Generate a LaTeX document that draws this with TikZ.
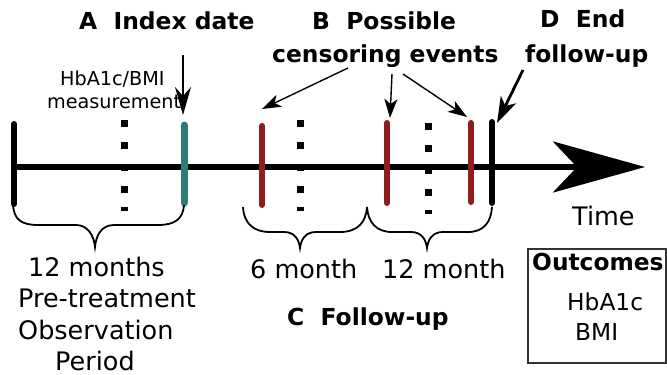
\documentclass[tikz,border=0pt]{standalone}
\usepackage{fontspec}
\setmainfont{DejaVu Sans}
\usetikzlibrary{arrows.meta}
\definecolor{tealc}{HTML}{2E7B78}
\definecolor{redc}{HTML}{8F1D1D}
\definecolor{boxc}{HTML}{333333}
\begin{document}
\begin{tikzpicture}[x=1pt,y=-1pt,
  lbl/.style={anchor=base west, inner sep=0pt, font=\fontsize{25.5}{30}\selectfont},
  hdr/.style={anchor=base west, inner sep=0pt, font=\fontsize{23.4}{28}\selectfont\bfseries},
  sml/.style={anchor=base west, inner sep=0pt, font=\fontsize{19.2}{23}\selectfont},
  boxt/.style={anchor=base west, inner sep=0pt, font=\fontsize{23.3}{28}\selectfont},
  tickline/.style={line width=6pt, line cap=round},
  brc/.style={line width=1.8pt},
  thinarr/.style={line width=1.4pt, -{Stealth[length=19pt,width=13pt,inset=5pt]}},
  arrA/.style={line width=2pt, -{Stealth[length=28pt,width=16pt,inset=9pt]}},
  arrD/.style={line width=2.8pt, -{Stealth[length=26pt,width=17pt,inset=7pt]}},
  dotsq/.style={fill=black}
]
\path[use as bounding box, fill=white] (0,0) rectangle (667,375);

% axis
\coordinate (axL) at (14,167);
\coordinate (axR) at (645,167);
\draw[line width=5.5pt, -{Stealth[length=92pt,width=51pt,inset=24pt]}] (axL) -- (axR);

% dotted lines
\foreach \x/\o in {124/0,300/0,428/3}{
  \foreach \y in {123,145,167,189}{
    \fill[dotsq] (\x-3.5,\y+\o-3.5) rectangle (\x+3.5,\y+\o+3.5);
  }
  \fill[dotsq] (\x-3.5,\o+207) rectangle (\x+3.5,\o+211);
}

% ticks
\draw[tickline] (14,124) -- (14,204);
\draw[tickline, tealc, line width=7pt] (184,125) -- (184,203);
\draw[tickline, redc] (262,126) -- (262,205);
\draw[tickline, redc] (387,123) -- (387,203);
\draw[tickline, redc] (471,123) -- (471,202);
\draw[tickline] (492,122) -- (492,203);

% braces
\draw[brc] (13,205) .. controls (14,220) and (22,225) .. (38,225) -- (76,225)
  .. controls (88,225) and (94,236) .. (95,247)
  .. controls (96,236) and (101,225) .. (114,225) -- (158,225)
  .. controls (175,225) and (183,219) .. (184,205);
\draw[brc] (243,207) .. controls (244,224) and (254,232) .. (270,232) -- (284,232)
  .. controls (295,232) and (299,240) .. (300,248)
  .. controls (301,240) and (305,232) .. (316,232) -- (340,232)
  .. controls (358,232) and (366,222) .. (367,207);
\draw[brc] (367,207) .. controls (368,222) and (376,232) .. (392,232) -- (411,232)
  .. controls (422,232) and (426,240) .. (427,248)
  .. controls (428,240) and (432,232) .. (443,232) -- (468,232)
  .. controls (484,232) and (491,222) .. (492,207);

% headers
\node[hdr] (A) at (79,29) {A\ \ Index date};
\node[hdr] (B1) at (312,29) {B\ \ Possible};
\node[hdr] (B2) at (272,62) {censoring events};
\node[hdr] (D1) at (540,27) {D\ \ End};
\node[hdr] (D2) at (525,62) {follow-up};
\node[sml] (m1) at (60,85) {HbA1c/BMI};
\node[sml] (m2) at (47,108) {measurement};

% arrows
\coordinate (aS) at (183,55);  \coordinate (aE) at (183,115);
\coordinate (b1S) at (348,68); \coordinate (b1E) at (262,109);
\coordinate (b2S) at (392,74); \coordinate (b2E) at (390,118);
\coordinate (b3S) at (403,74); \coordinate (b3E) at (467,117);
\coordinate (dS) at (523,70);  \coordinate (dE) at (497,123);
\draw[arrA] (aS) -- (aE);
\draw[thinarr] (b1S) -- (b1E);
\draw[thinarr] (b2S) -- (b2E);
\draw[thinarr] (b3S) -- (b3E);
\draw[arrD] (dS) -- (dE);

% lower labels
\node[lbl] (p1) at (28,276) {12 months};
\node[lbl] (p2) at (18,307) {Pre-treatment};
\node[lbl] (p3) at (18,339) {Observation};
\node[lbl] (p4) at (55,370) {Period};
\node[lbl] (f6) at (250,278) {6 month};
\node[lbl] (f12) at (382,278) {12 month};
\node[hdr] (C) at (287,325) {C\ \ Follow-up};
\node[lbl] (T) at (572,225) {Time};

% outcomes box
\node[draw=boxc, line width=1.6pt, anchor=north west, minimum width=138pt, minimum height=114pt, inner sep=0pt] (box) at (527,248) {};
\node[boxt, font=\fontsize{23.3}{28}\selectfont\bfseries] (o1) at (532,270) {Outcomes};
\node[boxt] (o2) at (567,310) {HbA1c};
\node[boxt] (o3) at (575,340) {BMI};
\end{tikzpicture}
\end{document}
